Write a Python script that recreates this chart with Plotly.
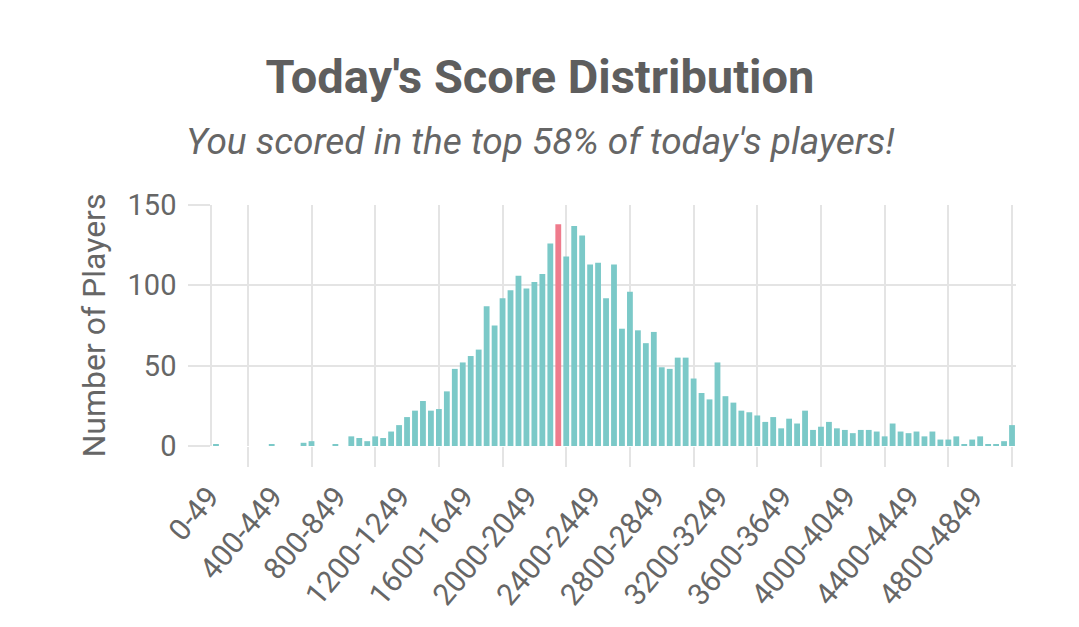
import plotly.graph_objects as go

# score bins of 50 points, last one is a catch-all
bin_starts = list(range(0, 5000, 50))
categories = [f"{s}-{s + 49}" for s in bin_starts] + ["5000+"]

players = [1, 0, 0, 0, 0, 0, 0, 1, 0, 0,
           0, 2, 3, 0, 0, 1, 0, 6, 5, 3,
           6, 5, 9, 13, 18, 22, 28, 22, 23, 34,
           48, 52, 56, 60, 87, 75, 92, 97, 106, 98,
           102, 107, 126, 138, 118, 137, 131, 113, 114, 92,
           113, 73, 96, 72, 64, 71, 49, 48, 55, 55,
           42, 33, 29, 52, 31, 27, 22, 21, 19, 15,
           18, 11, 17, 14, 22, 10, 12, 15, 11, 10,
           8, 10, 10, 9, 6, 14, 9, 8, 9, 6,
           9, 4, 4, 6, 1, 4, 6, 1, 1, 3,
           13]

your_bin = "2150-2199"

title = "Today's Score Distribution"
subtitle = "You scored in the top 58% of today's players!"
y_title = "Number of Players"
y_ticks = [0, 50, 100, 150]

TEAL = "#7bc9c8"
PINK = "#ef7b8c"
GRID = "#e4e4e4"
TEXT = "#666666"
FONT = "Roboto"

# page has an 8px body margin, so the figure is 8px smaller than the window
W, H = 1071, 619
L, R, T, B = 204, 63, 197, 181
plot_w = W - L - R
plot_h = H - T - B

idx = list(range(len(categories)))
colors = [PINK if c == your_bin else TEAL for c in categories]

# show every 8th label, grid lines sit halfway between shown labels
label_idx = idx[::8]
grid_idx = [i + 4 for i in label_idx]

fig = go.Figure(go.Bar(
    x=idx,
    y=players,
    marker=dict(color=colors, line=dict(width=0)),
    hovertext=categories,
))

fig.update_layout(
    width=W,
    height=H,
    margin=dict(l=L, r=R, t=T, b=B, autoexpand=False),
    paper_bgcolor="white",
    plot_bgcolor="white",
    bargap=0.27,
    showlegend=False,
    font=dict(family=FONT, color=TEXT),
    title=dict(
        text=title,
        x=532 / W, xref="container", xanchor="center",
        y=1 - 69 / H, yanchor="middle",
        font=dict(family=FONT, size=47, weight=700, color="#5e5e5e"),
    ),
)

fig.add_annotation(
    text=subtitle,
    xref="paper", yref="paper",
    x=(532 - L) / plot_w, y=(T + plot_h - 133) / plot_h,
    xanchor="center", yanchor="middle",
    showarrow=False,
    font=dict(family=FONT, size=37, style="italic", color=TEXT),
)

fig.add_annotation(
    text=y_title,
    xref="paper", yref="paper",
    x=(85 - L) / plot_w, y=0.5,
    xanchor="center", yanchor="middle",
    textangle=-90,
    showarrow=False,
    font=dict(family=FONT, size=32, color=TEXT),
)

fig.update_xaxes(
    automargin=False,
    range=[-0.5, len(categories) - 0.5],
    tickmode="array",
    tickvals=label_idx,
    ticktext=[categories[i] for i in label_idx],
    tickangle=-50,
    ticks="outside",
    ticklen=20,
    tickcolor="rgba(0,0,0,0)",
    ticklabelshift=-7,
    tickfont=dict(family=FONT, size=30, color=TEXT),
    showgrid=False,
    zeroline=False,
    showline=False,
    minor=dict(
        tickmode="array",
        tickvals=grid_idx,
        showgrid=True,
        gridcolor=GRID,
        gridwidth=1.5,
        ticks="outside",
        ticklen=20,
        tickcolor=GRID,
        tickwidth=1.5,
    ),
)

fig.update_yaxes(
    automargin=False,
    range=[0, 150],
    tickmode="array",
    tickvals=y_ticks,
    ticks="outside",
    ticklen=22,
    tickcolor=GRID,
    tickwidth=1.5,
    ticklabelstandoff=6,
    tickfont=dict(family=FONT, size=29, color=TEXT),
    showgrid=True,
    gridcolor=GRID,
    gridwidth=1.5,
    zeroline=False,
    showline=True,
    linecolor=GRID,
    linewidth=1.5,
)

fig.write_html("out.html")
